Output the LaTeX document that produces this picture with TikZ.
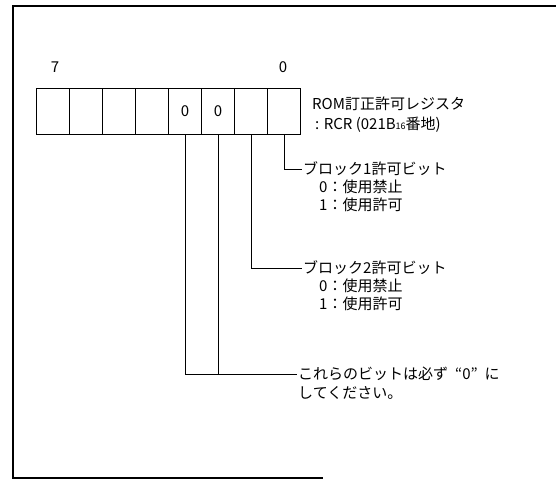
\documentclass[tikz,border=0pt]{standalone}
\usepackage{fontspec}
\setmainfont{Noto Sans CJK JP}
\begin{document}
\begin{tikzpicture}[x=1pt,y=-1pt,
  bitbox/.style={draw,line width=1.3pt,minimum width=33pt,minimum height=46pt,inner sep=0pt,font=\fontsize{15}{15}\selectfont},
  lbl/.style={anchor=west,inner sep=1pt,font=\fontsize{15}{15}\selectfont},
  conn/.style={line width=0.9pt}]
\useasboundingbox (0,0) rectangle (556,483);
% frame
\draw[line width=1.8pt] (556,6) -- (13,6) -- (13,478) -- (323,478);
% register boxes
\foreach \i/\t in {7/,6/,5/,4/,3/0,2/0,1/,0/} {
  \node[bitbox] (b\i) at ({53+(7-\i)*33},111.5) {\raisebox{-2pt}{\t}};
}
\node[font=\fontsize{15}{15}\selectfont] (n7) at (55,67) {7};
\node[font=\fontsize{15}{15}\selectfont] (n0) at (283,67) {0};
\node[lbl] (reg1) at (311,104) {ROM訂正許可レジスタ};
\node[lbl] (reg2) at (314,125) {: RCR (021B{\fontsize{9}{9}\selectfont 16}番地)};
% bit 0
\node[lbl] (t1) at (302,169) {ブロック1許可ビット};
\node[lbl] (t1a) at (318,187) {0：使用禁止};
\node[lbl] (t1b) at (318,205) {1：使用許可};
% bit 1
\node[lbl] (t2) at (302,268) {ブロック2許可ビット};
\node[lbl] (t2a) at (318,286) {0：使用禁止};
\node[lbl] (t2b) at (318,304) {1：使用許可};
% bits 3,2
\node[lbl] (t3) at (297,374) {これらのビットは必ず\hspace{7pt}“0”\hspace{7pt}に};
\node[lbl] (t3a) at (297,393) {してください。};
\draw[conn] (b0.south) |- (t1.west);
\draw[conn] (b1.south) |- (t2.west);
\draw[conn] (b3.south) |- (t3.west);
\draw[conn] (b2.south) -- (b2.south |- t3.west);
\end{tikzpicture}
\end{document}
